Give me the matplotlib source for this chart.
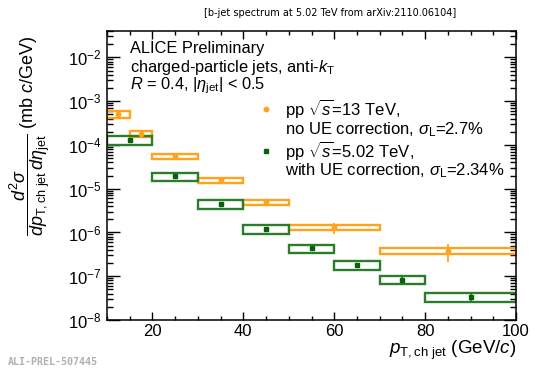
import matplotlib
matplotlib.use('Agg')
import matplotlib.pyplot as plt
from matplotlib.lines import Line2D
from matplotlib.ticker import LogLocator, MultipleLocator, NullFormatter
import numpy as np

# pp 13 TeV, no UE correction
pp13_lo = [10, 15, 20, 30, 40, 50, 70]
pp13_hi = [15, 20, 30, 40, 50, 70, 100]
pp13_y = [5.0e-4, 1.8e-4, 5.5e-5, 1.55e-5, 4.9e-6, 1.3e-6, 3.8e-7]
pp13_stat = [0.03, 0.04, 0.05, 0.08, 0.10, 0.28, 0.45]
pp13_sys = [0.16, 0.15, 0.14, 0.14, 0.14, 0.14, 0.14]

# pp 5.02 TeV, with UE correction
pp5_lo = [10, 20, 30, 40, 50, 60, 70, 80]
pp5_hi = [20, 30, 40, 50, 60, 70, 80, 100]
pp5_y = [1.3e-4, 1.9e-5, 4.5e-6, 1.2e-6, 4.3e-7, 1.8e-7, 8.3e-8, 3.4e-8]
pp5_stat = [0.05, 0.05, 0.06, 0.08, 0.10, 0.12, 0.15, 0.18]
pp5_sys = [0.24, 0.22, 0.22, 0.22, 0.22, 0.22, 0.22, 0.24]

orange = '#ffa31a'
green = '#2a7d2a'
green_marker = '#0b5e0b'

plt.rcParams['font.family'] = ['Liberation Sans', 'DejaVu Sans']
plt.rcParams['mathtext.fontset'] = 'custom'
plt.rcParams['mathtext.rm'] = 'Liberation Sans'
plt.rcParams['mathtext.it'] = 'Liberation Sans:italic'
plt.rcParams['mathtext.bf'] = 'Liberation Sans:bold'

fig = plt.figure(figsize=(5.34, 3.71), dpi=100)
ax = fig.add_axes([107 / 534, 1 - 320 / 371, 409 / 534, 289 / 371])


def draw_series(lo, hi, y, stat, sys, color, mcolor, marker, ms):
    lo = np.array(lo, dtype=float)
    hi = np.array(hi, dtype=float)
    y = np.array(y)
    sys = np.array(sys)
    stat = np.array(stat)
    # systematic boxes
    ax.bar(lo, y * 2 * sys, width=hi - lo, bottom=y * (1 - sys), align='edge',
           fill=False, edgecolor=color, linewidth=1.7, zorder=2)
    x = (lo + hi) / 2
    ax.errorbar(x, y, yerr=y * stat, fmt=marker, color=color, mfc=mcolor,
                mec=mcolor, ms=ms, elinewidth=1.3, capsize=0, zorder=3)


draw_series(pp13_lo, pp13_hi, pp13_y, pp13_stat, pp13_sys, orange, orange, 'o', 3.2)
draw_series(pp5_lo, pp5_hi, pp5_y, pp5_stat, pp5_sys, green, green_marker, 's', 3.5)

ax.set_yscale('log')
ax.set_xlim(10, 100)
ax.set_ylim(1e-8, 4e-2)
ax.xaxis.set_major_locator(MultipleLocator(20))
ax.xaxis.set_minor_locator(MultipleLocator(5))
ax.yaxis.set_major_locator(LogLocator(base=10, numticks=20))
ax.yaxis.set_minor_locator(LogLocator(base=10, subs=np.arange(2, 10), numticks=20))
ax.yaxis.set_minor_formatter(NullFormatter())
ax.tick_params(which='both', direction='in', top=True, right=True, labelsize=12)
ax.tick_params(axis='y', which='major', length=9, width=1, pad=4)
ax.tick_params(axis='y', which='minor', length=4.5, width=1)
ax.tick_params(axis='x', which='major', length=6, width=1, pad=3)
ax.tick_params(axis='x', which='minor', length=3, width=1)
for s in ax.spines.values():
    s.set_linewidth(1.1)

ax.text(0.056, 0.924, 'ALICE Preliminary', transform=ax.transAxes, fontsize=11.8, va='baseline')
ax.text(0.056, 0.858, 'charged-particle jets, anti-$k_{\\rm T}$', transform=ax.transAxes,
        fontsize=11.8, va='baseline')
ax.text(0.056, 0.797, '$R$ = 0.4, $|\\eta_{\\rm jet}|$ < 0.5', transform=ax.transAxes,
        fontsize=11.8, va='baseline')

handles = [
    Line2D([], [], ls='none', marker='o', color=orange, ms=3.2),
    Line2D([], [], ls='none'),
    Line2D([], [], ls='none', marker='s', color=green_marker, ms=3.5),
    Line2D([], [], ls='none'),
]
labels = [
    'pp $\\sqrt{s}$=13 TeV,',
    'no UE correction, $\\sigma_{\\rm L}$=2.7%',
    'pp $\\sqrt{s}$=5.02 TeV,',
    'with UE correction, $\\sigma_{\\rm L}$=2.34%',
]
fig.legend(handles, labels, loc='upper left', bbox_to_anchor=(258 / 534, 1 - 97 / 371),
           frameon=False, fontsize=12, handlelength=0.9, handletextpad=0.7,
           borderpad=0, borderaxespad=0, labelspacing=0.0)

fig.text(30 / 534, 1 - 136 / 371,
         '$\\dfrac{d^2\\sigma}{dp_{\\rm T,ch\\ jet}\\,d\\eta_{\\rm jet}}$ (mb $c$/GeV)',
         rotation=90, ha='center', va='center', fontsize=13)
fig.text(516 / 534, 1 - 350 / 371, '$p_{\\rm T,ch\\ jet}$ (GeV/$c$)',
         ha='right', va='center', fontsize=13.5)

fig.text(330 / 534, 1 - 13 / 371, '[b-jet spectrum at 5.02 TeV from arXiv:2110.06104]',
         ha='center', va='center', fontsize=7, family='DejaVu Sans')
fig.text(8 / 534, 1 - 362 / 371, 'ALI-PREL-507445', ha='left', va='center',
         fontsize=7.2, color='#b0b0b0', family='DejaVu Sans Mono', weight='bold')

fig.savefig('out.png', dpi=100)
